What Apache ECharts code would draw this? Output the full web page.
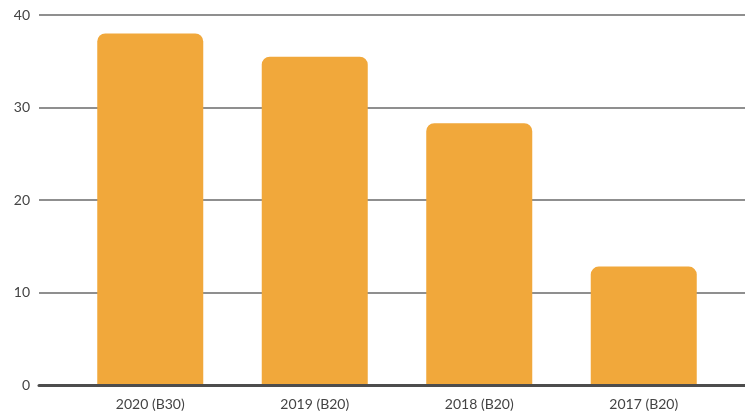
<!DOCTYPE html>
<html lang="en">
<head>
    <meta charset="UTF-8">
    <title>Bar chart</title>
    <script src="https://cdn.jsdelivr.net/npm/echarts@6.0.0/dist/echarts.min.js"></script>
    <style>
        html, body { margin: 0; padding: 0; background: #fff; }
    </style>
</head>
<body>
    <div id="chart" style="width: 745px; height: 412px;"></div>

    <script>
        var categories = ['2020 (B30)', '2019 (B20)', '2018 (B20)', '2017 (B20)'];
        var values = [38, 35.5, 28.3, 12.8];
        var yTicks = [0, 10, 20, 30, 40];

        var chart = echarts.init(document.getElementById('chart'));

        var fontFamily = 'Lato, "Open Sans", sans-serif';
        var gridTop = 15, gridBottom = 27;

        chart.setOption({
            animation: false,
            // grid 0: full width lines + y labels, grid 1: bars
            grid: [
                { left: 39, right: 0, top: gridTop, bottom: gridBottom },
                { left: 68, right: 19, top: gridTop, bottom: gridBottom }
            ],
            xAxis: [
                {
                    gridIndex: 0,
                    type: 'category',
                    data: categories,
                    axisLine: { show: true, lineStyle: { color: '#4d4d4d', width: 3 } },
                    axisTick: { show: false },
                    axisLabel: { show: false },
                    z: 5
                },
                {
                    gridIndex: 1,
                    type: 'category',
                    data: categories,
                    axisLine: { show: false },
                    axisTick: { show: false },
                    axisLabel: {
                        color: '#444',
                        fontSize: 14,
                        fontFamily: fontFamily,
                        margin: 12
                    }
                }
            ],
            yAxis: [
                {
                    gridIndex: 0,
                    type: 'value',
                    min: yTicks[0],
                    max: yTicks[yTicks.length - 1],
                    interval: 10,
                    axisLine: { show: false },
                    axisTick: { show: false },
                    axisLabel: {
                        color: '#444',
                        fontSize: 14,
                        fontFamily: fontFamily,
                        margin: 9
                    },
                    splitLine: { lineStyle: { color: '#6a6a6a', width: 1.5 } }
                },
                {
                    gridIndex: 1,
                    type: 'value',
                    min: yTicks[0],
                    max: yTicks[yTicks.length - 1],
                    interval: 10,
                    show: false,
                    splitLine: { show: false }
                }
            ],
            series: [{
                type: 'bar',
                xAxisIndex: 1,
                yAxisIndex: 1,
                data: values,
                barWidth: 106,
                itemStyle: {
                    color: '#f1a83b',
                    borderRadius: [8, 8, 0, 0]
                }
            }]
        });
    </script>
</body>
</html>
